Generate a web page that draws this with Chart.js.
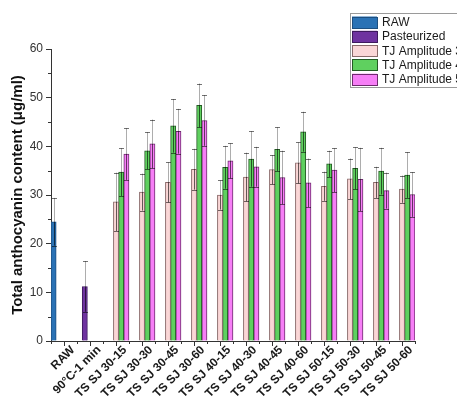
<!DOCTYPE html>
<html>
<head>
<meta charset="utf-8">
<script src="https://cdn.jsdelivr.net/npm/chart.js@4/dist/chart.umd.min.js"></script>
<style>
  html, body { margin: 0; padding: 0; background: #fff; }
  #wrap { width: 457px; height: 402px; position: relative; }
</style>
</head>
<body>
<div id="wrap"><canvas id="c" width="457" height="402"></canvas></div>
<script>
// Sample groups on the x axis
const categories = ['RAW', '90°C-1 min', 'TS SJ 30-15', 'TS SJ 30-30', 'TS SJ 30-45', 'TS SJ 30-60',
  'TS SJ 40-15', 'TS SJ 40-30', 'TS SJ 40-45', 'TS SJ 40-60', 'TS SJ 50-15', 'TS SJ 50-30',
  'TS SJ 50-45', 'TS SJ 50-60'];

// Series names
const seriesNames = ['RAW', 'Pasteurized', 'TJ Amplitude 30', 'TJ Amplitude 40', 'TJ Amplitude 50'];

// Mean anthocyanin content (µg/ml) and standard deviations
const rawValues = [24.5, null, null, null, null, null, null, null, null, null, null, null, null, null];
const rawErr    = [4.9, null, null, null, null, null, null, null, null, null, null, null, null, null];
const pastValues = [null, 11.2, null, null, null, null, null, null, null, null, null, null, null, null];
const pastErr    = [null, 5.2, null, null, null, null, null, null, null, null, null, null, null, null];
const amp30Values = [null, null, 28.6, 30.6, 32.6, 35.3, 30.0, 33.7, 35.2, 36.6, 31.8, 33.3, 32.6, 31.2];
const amp30Err    = [null, null, 6.0, 3.8, 4.1, 4.2, 3.0, 5.0, 3.0, 4.2, 3.0, 4.2, 3.2, 2.8];
const amp40Values = [null, null, 34.7, 39.1, 44.2, 48.4, 35.7, 37.4, 39.4, 43.0, 36.4, 35.5, 34.9, 34.1];
const amp40Err    = [null, null, 4.9, 3.8, 5.5, 4.5, 4.4, 5.7, 4.5, 4.1, 2.7, 4.3, 4.8, 4.7];
const amp50Values = [null, null, 38.4, 40.5, 43.1, 45.3, 37.0, 35.8, 33.6, 32.5, 35.1, 33.2, 30.9, 30.1];
const amp50Err    = [null, null, 5.3, 5.0, 4.6, 5.2, 3.6, 4.1, 5.5, 5.0, 4.5, 6.5, 3.7, 4.6];

// Y axis range and tick step
const yMin = 0, yMax = 60, yStep = 10;

const FONT = "'Liberation Sans', Arial, sans-serif";
const AXIS_COLOR = '#333333';

const fills = ['#2a72b5', '#6f33a0', '#fad6d6', '#5fd05f', '#f67ef6'];
const edges = ['#1d4f80', '#3e1a5e', '#8a6a6a', '#245a24', '#6e2a6e'];
const valueSets = [rawValues, pastValues, amp30Values, amp40Values, amp50Values];
const errSets = [rawErr, pastErr, amp30Err, amp40Err, amp50Err];

const datasets = seriesNames.map((name, i) => ({
  label: name,
  data: valueSets[i],
  errors: errSets[i],
  backgroundColor: fills[i],
  borderColor: edges[i],
  borderWidth: 1,
  categoryPercentage: 1.0,
  barPercentage: 1.0
}));

// Standard deviation whiskers
const errorBars = {
  id: 'errorBars',
  afterDatasetsDraw(chart) {
    const ctx = chart.ctx;
    const ys = chart.scales.y;
    chart.data.datasets.forEach((ds, di) => {
      const meta = chart.getDatasetMeta(di);
      meta.data.forEach((bar, idx) => {
        const v = ds.data[idx];
        const e = ds.errors[idx];
        if (v == null || e == null) return;
        const x = Math.round(bar.x) + 0.5;
        const yTop = ys.getPixelForValue(v + e);
        const yBot = ys.getPixelForValue(v - e);
        const yVal = ys.getPixelForValue(v);
        ctx.save();
        ctx.lineWidth = 1;
        // part above the bar
        ctx.strokeStyle = 'rgba(0,0,0,0.32)';
        ctx.beginPath(); ctx.moveTo(x, yTop); ctx.lineTo(x, yVal); ctx.stroke();
        // part inside the bar
        ctx.strokeStyle = 'rgba(0,0,0,0.6)';
        ctx.beginPath(); ctx.moveTo(x, yVal); ctx.lineTo(x, yBot); ctx.stroke();
        // caps
        ctx.strokeStyle = 'rgba(0,0,0,0.55)';
        ctx.beginPath();
        ctx.moveTo(x - 2.5, Math.round(yTop) + 0.5); ctx.lineTo(x + 2.5, Math.round(yTop) + 0.5);
        ctx.moveTo(x - 2.5, Math.round(yBot) + 0.5); ctx.lineTo(x + 2.5, Math.round(yBot) + 0.5);
        ctx.stroke();
        ctx.restore();
      });
    });
  }
};

// Minor ticks: half steps on y, category boundaries on x
const minorTicks = {
  id: 'minorTicks',
  afterDraw(chart) {
    const ctx = chart.ctx;
    const ys = chart.scales.y;
    const area = chart.chartArea;
    ctx.save();
    ctx.strokeStyle = AXIS_COLOR;
    ctx.lineWidth = 1;
    ctx.beginPath();
    for (let v = yMin + yStep / 2; v < yMax; v += yStep) {
      const y = Math.round(ys.getPixelForValue(v)) + 0.5;
      ctx.moveTo(area.left, y); ctx.lineTo(area.left - 3, y);
    }
    const n = categories.length;
    const w = (area.right - area.left) / n;
    for (let i = 0; i <= n; i++) {
      const x = Math.round(area.left + i * w) + 0.5;
      ctx.moveTo(x, area.bottom); ctx.lineTo(x, area.bottom + 3);
    }
    ctx.stroke();
    ctx.restore();
  }
};

// Boxed legend in the upper right corner
const boxLegend = {
  id: 'boxLegend',
  afterDraw(chart) {
    const ctx = chart.ctx;
    const x0 = 350.5, y0 = 13.5, h = 74;
    ctx.save();
    ctx.fillStyle = '#ffffff';
    ctx.fillRect(x0, y0, 130, h);
    ctx.strokeStyle = '#9a9a9a';
    ctx.lineWidth = 1;
    ctx.strokeRect(x0, y0, 130, h);
    ctx.font = '12px ' + FONT;
    ctx.textBaseline = 'middle';
    chart.data.datasets.forEach((ds, i) => {
      const sy = 16.5 + i * 14.3;
      ctx.fillStyle = ds.backgroundColor;
      ctx.fillRect(352, sy, 25, 11.5);
      ctx.strokeStyle = ds.borderColor;
      ctx.strokeRect(352.5, Math.round(sy) + 0.5, 25, 11);
      ctx.fillStyle = '#1a1a1a';
      ctx.fillText(ds.label, 382, sy + 6.3);
    });
    ctx.restore();
  }
};

new Chart(document.getElementById('c'), {
  type: 'bar',
  data: { labels: categories, datasets },
  options: {
    responsive: false,
    animation: false,
    layout: { padding: { top: 49, right: 42, left: 0, bottom: 0 } },
    plugins: { legend: { display: false }, tooltip: { enabled: false } },
    scales: {
      x: {
        afterFit(s) { s.height = 61; },
        grid: { display: true, drawOnChartArea: false, offset: false, tickLength: 5, color: AXIS_COLOR, lineWidth: 1 },
        border: { display: true, color: AXIS_COLOR, width: 1 },
        ticks: {
          autoSkip: false, minRotation: 45, maxRotation: 45, padding: -3, labelOffset: 9,
          color: '#1a1a1a', font: { family: FONT, size: 12, weight: 'bold' }
        }
      },
      y: {
        min: yMin, max: yMax,
        afterFit(s) { s.width = 51; },
        grid: { display: true, drawOnChartArea: false, tickLength: 5, color: AXIS_COLOR, lineWidth: 1 },
        border: { display: true, color: AXIS_COLOR, width: 1 },
        ticks: { stepSize: yStep, padding: 3, color: '#333', font: { family: FONT, size: 12 } },
        title: {
          display: true,
          text: 'Total anthocyanin content (μg/ml)',
          color: '#111',
          font: { family: FONT, size: 15, weight: 'bold' },
          padding: { top: 9, bottom: 0 }
        }
      }
    }
  },
  plugins: [errorBars, minorTicks, boxLegend]
});
</script>
</body>
</html>
